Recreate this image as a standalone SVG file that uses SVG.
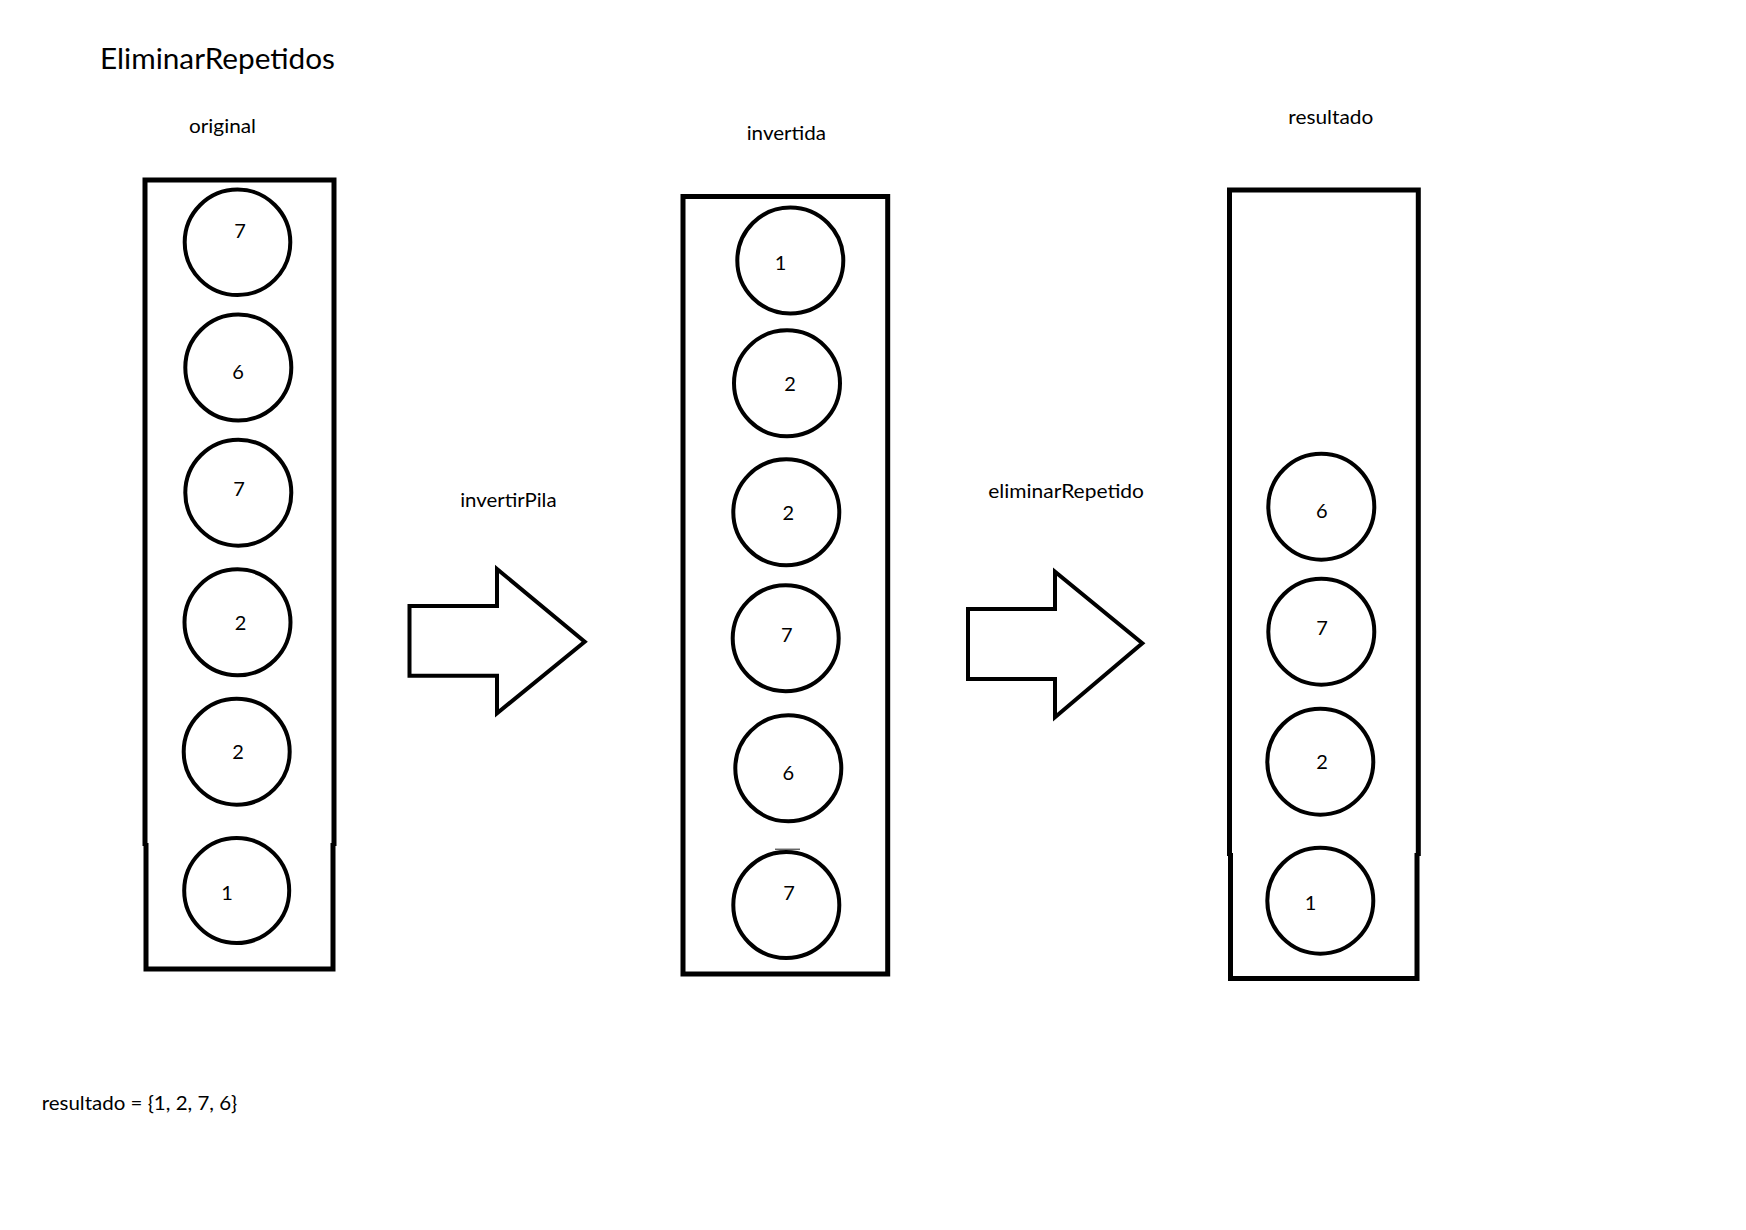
<svg xmlns="http://www.w3.org/2000/svg" width="1746" height="1230" viewBox="0 0 1746 1230">
<style>
  .box { fill: none; stroke: #000; stroke-width: 5; stroke-linejoin: miter; }
  .ball { fill: #fff; stroke: #000; stroke-width: 4; }
  .num { font-family: Lato, "Open Sans", sans-serif; font-size: 20px; fill: #000; text-anchor: middle; }
  .lbl { font-family: Lato, "Open Sans", sans-serif; font-size: 20px; fill: #000; }
  .title { font-family: Lato, "Open Sans", sans-serif; font-size: 29px; fill: #000; }
  .arrow { fill: #fff; stroke: #000; stroke-width: 4; stroke-linejoin: miter; }
</style>
<rect width="1746" height="1230" fill="#fff"/>

<text class="title" x="100" y="69" textLength="235" lengthAdjust="spacingAndGlyphs">EliminarRepetidos</text>

<g id="original">
  <text class="lbl" x="189" y="133" textLength="67" lengthAdjust="spacingAndGlyphs">original</text>
  <path class="box" d="M145,846 V180 H334 V846 M146,843 V969 H333 V843"/>
  <g id="o1"><circle class="ball" cx="237.5" cy="242.3" r="52.8"/><text class="num" x="240" y="238">7</text></g>
  <g id="o2"><circle class="ball" cx="238.3" cy="367.5" r="53"/><text class="num" x="238" y="379">6</text></g>
  <g id="o3"><circle class="ball" cx="238.3" cy="492.7" r="53"/><text class="num" x="239" y="496">7</text></g>
  <g id="o4"><circle class="ball" cx="237.5" cy="622.3" r="53"/><text class="num" x="240.5" y="630">2</text></g>
  <g id="o5"><circle class="ball" cx="236.7" cy="751.7" r="53"/><text class="num" x="238" y="759">2</text></g>
  <g id="o6"><circle class="ball" cx="236.7" cy="890.5" r="52.5"/><text class="num" x="227" y="900">1</text></g>
</g>

<g id="invertida">
  <text class="lbl" x="746.7" y="140" textLength="79.3" lengthAdjust="spacingAndGlyphs">invertida</text>
  <rect class="box" x="683" y="196.5" width="204.7" height="777.5"/>
  <g id="i1"><circle class="ball" cx="790.3" cy="260.5" r="53"/><text class="num" x="780.5" y="270">1</text></g>
  <g id="i2"><circle class="ball" cx="787" cy="383.3" r="53"/><text class="num" x="790" y="391">2</text></g>
  <g id="i3"><circle class="ball" cx="786.3" cy="512.3" r="53"/><text class="num" x="788.3" y="520">2</text></g>
  <g id="i4"><circle class="ball" cx="785.7" cy="638.3" r="53"/><text class="num" x="786.7" y="641.7">7</text></g>
  <g id="i5"><circle class="ball" cx="788.3" cy="768.3" r="53"/><text class="num" x="788.3" y="780">6</text></g>
  <g id="i6"><line x1="775" y1="849.3" x2="800" y2="849.3" stroke="#666" stroke-width="1.5"/><circle class="ball" cx="786.3" cy="905" r="53"/><text class="num" x="789" y="900">7</text></g>
</g>

<g id="resultado">
  <text class="lbl" x="1288.3" y="124.3" textLength="85" lengthAdjust="spacingAndGlyphs">resultado</text>
  <path class="box" d="M1229.5,856 V190 H1418.3 V856 M1230.5,853 V978.5 H1417 V853"/>
  <g id="r1"><circle class="ball" cx="1321.3" cy="506.7" r="53"/><text class="num" x="1321.7" y="518.3">6</text></g>
  <g id="r2"><circle class="ball" cx="1321.3" cy="631.7" r="53"/><text class="num" x="1322" y="635">7</text></g>
  <g id="r3"><circle class="ball" cx="1320.3" cy="761.7" r="53"/><text class="num" x="1322" y="769.3">2</text></g>
  <g id="r4"><circle class="ball" cx="1320.3" cy="900.7" r="53"/><text class="num" x="1310.5" y="910">1</text></g>
</g>

<g id="connectors">
  <g id="arrow-invertirPila">
    <polygon class="arrow" points="409.5,606 497,606 497,569 584.7,641.7 497,713.3 497,675.7 409.5,675.7"/>
    <text class="lbl" x="460.2" y="507.3" textLength="96.4" lengthAdjust="spacingAndGlyphs">invertirPila</text>
  </g>
  <g id="arrow-eliminarRepetido">
    <polygon class="arrow" points="968,609 1055,609 1055,571.7 1142.3,643.3 1055,717.3 1055,679 968,679"/>
    <text class="lbl" x="988.3" y="498.3" textLength="155.6" lengthAdjust="spacingAndGlyphs">eliminarRepetido</text>
  </g>
</g>

<text class="lbl" x="41.7" y="1109.5" textLength="195.6" lengthAdjust="spacingAndGlyphs">resultado = {1, 2, 7, 6}</text>
</svg>
